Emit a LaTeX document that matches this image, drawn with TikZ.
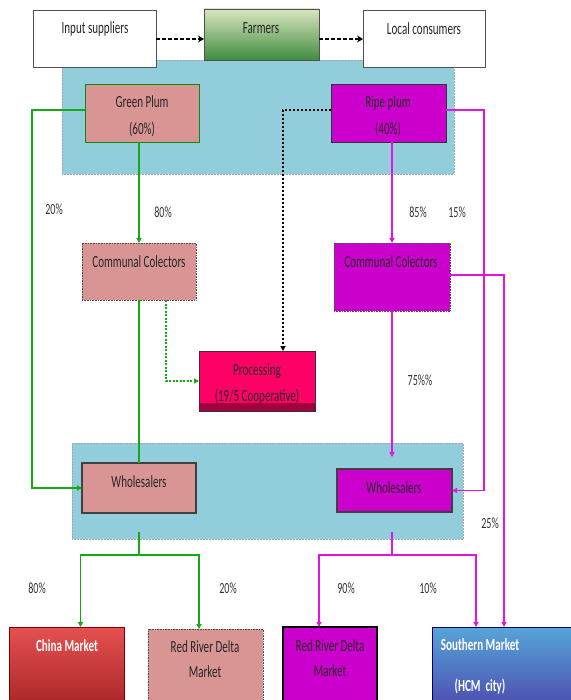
\documentclass[tikz,border=0pt]{standalone}
\usepackage{fontspec}
\setmainfont{Carlito}[FakeStretch=0.65]
\usetikzlibrary{arrows.meta,calc}
\definecolor{panelblue}{HTML}{92CDDC}
\definecolor{pinkbox}{HTML}{D99594}
\definecolor{magbox}{HTML}{CC00CC}
\definecolor{procpink}{HTML}{FF0066}
\definecolor{procdark}{HTML}{A3003F}
\definecolor{gline}{RGB}{20,170,20}
\definecolor{mline}{RGB}{225,20,225}
\definecolor{bordergray}{HTML}{505050}
\begin{document}
\begin{tikzpicture}[x=1pt,y=-1pt,
  every node/.style={inner sep=0pt, outer sep=0pt},
  box/.style={anchor=north west, draw=bordergray, line width=0.6pt},
  txt/.style={font=\fontsize{17}{19}\selectfont, align=center, text=black!85},
  pct/.style={font=\fontsize{15.5}{17}\selectfont, text=black!80},
  panel/.style={anchor=north west, fill=panelblue, draw=gray!70, densely dotted, line width=0.5pt},
  garrow/.style={draw=gline, line width=1.5pt, -{Triangle[length=5pt,width=5pt]}},
  gplain/.style={draw=gline, line width=1.5pt},
  marrow/.style={draw=mline, line width=1.6pt, -{Triangle[length=5pt,width=5pt]}},
  mplain/.style={draw=mline, line width=1.6pt},
  blkarrow/.style={draw=black, line width=2.2pt, dash pattern=on 4pt off 2pt, -{Stealth[length=6pt,width=7pt]}},
  blkdot/.style={draw=black, line width=2pt, dash pattern=on 2pt off 2pt, -{Triangle[length=5pt,width=5pt]}},
  gdot/.style={draw=gline, line width=1.5pt, dash pattern=on 2pt off 1.5pt, -{Triangle[length=5pt,width=5pt]}}
]
\useasboundingbox (0,0) rectangle (570,700);
\fill[white] (0,0) rectangle (570,700);

% panels
\node[panel, minimum width=392pt, minimum height=114pt] (toppanel) at (62,60) {};
\node[panel, minimum width=391pt, minimum height=96pt] (botpanel) at (72,443) {};

% top row
\node[box, fill=white, minimum width=123pt, minimum height=57pt] (insup) at (33,10) {};
\node[box, top color=green!20!olive!25!white, bottom color=green!40!black!75, draw=bordergray, minimum width=115pt, minimum height=51pt] (farmers) at (204,9) {};
\node[box, fill=white, minimum width=122pt, minimum height=57pt] (loccons) at (363,10) {};
\node[txt] (insupt) at (95,29) {Input suppliers};
\node[txt] (farmerst) at (261,28) {Farmers};
\node[txt] (loccomst) at (424,29) {Local consumers};

% plums
\node[box, fill=pinkbox, draw=gline!80!black, minimum width=114pt, minimum height=58pt] (gplum) at (85,84) {};
\node[box, fill=magbox, draw=black!80, line width=0.8pt, minimum width=115pt, minimum height=58pt] (rplum) at (331,84) {};
\node[txt] (gplumt) at (142,116) {Green Plum\\[8pt](60\%)};
\node[txt] (rplumt) at (388,116) {Ripe plum\\[8pt](40\%)};

% collectors and processing
\node[box, fill=pinkbox, densely dotted, minimum width=114pt, minimum height=57pt] (gcoll) at (82,243) {};
\node[box, fill=magbox, densely dotted, minimum width=116pt, minimum height=68pt] (rcoll) at (334,243) {};
\node[txt] (gcollt) at (139,262) {Communal Colectors};
\node[txt] (rcollt) at (391,262) {Communal Colectors};
\node[box, fill=procpink, draw=black!80, line width=0.8pt, minimum width=116pt, minimum height=60pt] (proc) at (199,351) {};
\fill[procdark] ([yshift=0.4pt,xshift=0.4pt]proc.south west) rectangle ([yshift=8pt,xshift=-0.4pt]proc.south east);
\node[txt] (proct) at (257,384) {Processing\\[7pt](19/5 Cooperative)};

% wholesalers
\node[box, fill=pinkbox, draw=black!75, line width=1.2pt, minimum width=114pt, minimum height=50pt] (gwhole) at (82,463) {};
\node[box, fill=magbox, draw=black!75, line width=1.2pt, minimum width=115pt, minimum height=43pt] (rwhole) at (337,469) {};
\node[txt] (gwholet) at (139,482) {Wholesalers};
\node[txt] (rwholet) at (394,488) {Wholesalers};

% markets
\node[box, top color=red!65!white!90!black, bottom color=red!60!black!85, draw=red!50!black, minimum width=115pt, minimum height=80pt] (china) at (9,627) {};
\node[box, fill=pinkbox, densely dotted, minimum width=115pt, minimum height=80pt] (rrdg) at (148,629) {};
\node[box, fill=magbox, draw=black, line width=1.4pt, minimum width=94pt, minimum height=80pt] (rrdm) at (283,627) {};
\node[box, top color=blue!40!cyan!60!white!85!black, bottom color=blue!55!black!70!white, draw=blue!40!black, minimum width=148pt, minimum height=80pt] (south) at (432,627) {};
\node[txt, text=white, font=\fontsize{17}{19}\selectfont\bfseries] (chinat) at (67,646) {China Market};
\node[txt] (rrdgt) at (205,659.5) {Red River Delta\\[6pt]Market};
\node[txt] (rrdmt) at (330,658.5) {Red River Delta\\[6pt]Market};
\node[txt, text=white, font=\fontsize{17}{19}\selectfont\bfseries] (southt) at (480,666.5) {Southern Market\\[22pt](HCM~~city)};

% top arrows
\draw[blkarrow] (insup.east |- 0,39) -- (farmers.west |- 0,39);
\draw[blkarrow] (farmers.east |- 0,39) -- (loccons.west |- 0,39);

% green plum flows
\draw[garrow] (gplum.west |- 0,110) -- (32,110) |- (gwhole.west);
\draw[garrow] (gcoll.north |- gplum.south) -- (gcoll.north);
\draw[gplain] (gcoll.south) -- (gwhole.north);
\draw[gdot] ([xshift=27pt]gcoll.south) |- (proc.west);

% ripe plum flows
\draw[blkdot] (rplum.west |- 0,110) -| ([xshift=26pt]proc.north);
\draw[marrow] (rplum.east |- 0,110) -- (484,110) |- (rwhole.east);
\draw[marrow] (rcoll.north |- rplum.south) -- (rcoll.north);
\draw[marrow] (rcoll.south) -- ([yshift=12pt]rwhole.north -| rcoll.south);
\draw[marrow] (rcoll.east |- 0,275) -- (504,275) coordinate (rc25) -- (rc25 |- south.north);

% wholesaler outflows
\draw[gplain] (gwhole.south |- 0,532) -- (gwhole.south |- 0,555) coordinate (gbr);
\draw[garrow] (gbr) -| ([xshift=14pt]china.north);
\draw[garrow] (gbr) -| ([xshift=-6.5pt]rrdg.north);
\draw[mplain] (rcoll.south |- 0,532) -- (rcoll.south |- 0,555) coordinate (mbr);
\draw[marrow] (mbr) -| ([xshift=-11pt]rrdm.north);
\draw[marrow] (mbr) -| ([xshift=-30pt]south.north);

% percentages
\node[pct] (p20a) at (54,209) {20\%};
\node[pct] (p80a) at (163,212) {80\%};
\node[pct] (p85) at (418,212) {85\%};
\node[pct] (p15) at (457,212) {15\%};
\node[pct] (p75) at (420,380) {75\%\%};
\node[pct] (p25) at (490,523) {25\%};
\node[pct] (p80b) at (37,588) {80\%};
\node[pct] (p20b) at (228,588) {20\%};
\node[pct] (p90) at (346,588) {90\%};
\node[pct] (p10) at (428,588) {10\%};
\end{tikzpicture}
\end{document}
